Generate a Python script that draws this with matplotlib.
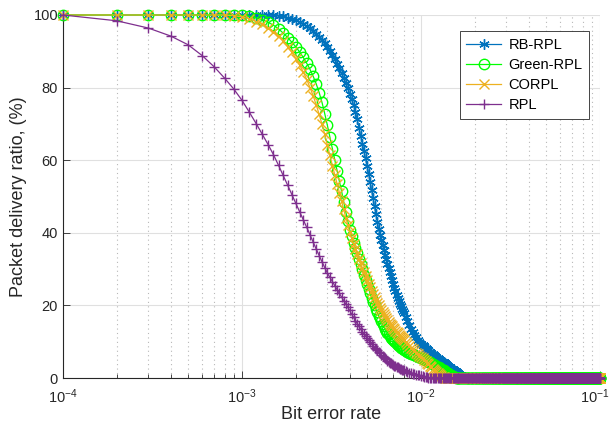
import numpy as np
import matplotlib
matplotlib.use('Agg')
import matplotlib.pyplot as plt
from matplotlib.ticker import LogLocator, NullFormatter

plt.rcParams['font.family'] = ['Liberation Sans', 'DejaVu Sans']
plt.rcParams['mathtext.default'] = 'regular'

# bit error rate grid: 1e-4 steps up to 8e-3, then 2e-4 steps up to 1e-1
ber = np.concatenate([np.arange(1, 81) * 1e-4, np.arange(41, 501) * 2e-4])

# packet delivery ratio (%), one row per 1e-3 of BER
rb_rpl = ([100] * 14 +
          [99.9, 99.8, 99.6, 99.3, 99.0, 98.6,
           98.1, 97.6, 97.0, 96.3, 95.6, 94.8, 94.0, 93.1, 92.2, 91.2,
           90.1, 89.0, 87.8, 86.6, 85.3, 84.0, 82.7, 81.3, 79.8, 78.3,
           76.8, 75.2, 73.3, 71.3, 69.0, 66.8, 64.6, 62.5, 60.5, 58.5,
           56.3, 54.0, 51.7, 49.5, 47.3, 45.2, 43.0, 41.0, 39.4, 38.0,
           36.6, 35.3, 34.0, 32.8, 31.5, 30.3, 29.1, 28.0, 26.9, 25.8,
           24.8, 23.9, 23.0, 22.1, 21.3, 20.5, 19.7, 19.0, 18.4, 17.8] +
          # 2e-4 steps from 8.2e-3
          [16.7, 15.6, 14.5, 13.5, 12.6, 11.9, 11.2, 10.6, 10.0, 9.5,
           9.1, 8.7, 8.3, 8.0, 7.6, 7.3, 7.0, 6.7, 6.4, 6.1,
           5.8, 5.6, 5.3, 5.0, 4.8, 4.5, 4.3, 4.0, 3.8, 3.5,
           3.3, 3.1, 2.9, 2.6, 2.4, 2.2, 2.0, 1.8, 1.6, 1.4,
           1.2, 1.0, 0.9, 0.7, 0.5, 0.4, 0.3, 0.2, 0.1])
green_rpl = ([100] * 9 +
             [99.9, 99.6, 99.2, 98.7, 98.0, 97.2, 96.2, 95.0, 93.8, 92.5, 91.2,
              89.8, 88.3, 86.7, 85.0, 83.1, 81.0, 78.6, 75.9, 72.8, 69.6,
              66.3, 63.0, 60.0, 57.0, 54.2, 51.5, 48.6, 45.8, 43.2, 40.8,
              39.0, 37.3, 35.8, 34.3, 32.8, 31.3, 29.9, 28.5, 27.1, 25.8,
              24.5, 23.3, 22.1, 21.0, 20.0, 19.0, 18.1, 17.2, 16.4, 15.6,
              14.9, 14.2, 13.6, 13.0, 12.5, 12.0, 11.5, 11.1, 10.7, 10.4,
              10.1, 9.8, 9.5, 9.2, 8.9, 8.7, 8.4, 8.2, 8.0, 7.8] +
             [7.5, 7.2, 6.9, 6.7, 6.5, 6.3, 6.1, 5.9, 5.7, 5.5,
              5.3, 5.1, 4.9, 4.7, 4.5, 4.3, 4.1, 3.9, 3.7, 3.5,
              3.3, 3.1, 2.9, 2.7, 2.5, 2.3, 2.1, 1.9, 1.7, 1.5,
              1.3, 1.1, 0.9, 0.7, 0.5, 0.3, 0.2, 0.1])
corpl = ([100] * 8 +
         [99.8, 99.5,
          98.9, 98.2, 97.4, 96.5, 95.4, 94.2, 92.8, 91.3, 89.7, 88.0,
          86.2, 84.3, 82.2, 80.0, 77.7, 75.2, 72.6, 69.9, 67.1, 64.2,
          61.3, 58.5, 56.0, 53.5, 51.1, 48.8, 46.5, 44.2, 42.1, 40.2,
          38.6, 37.0, 35.6, 34.2, 32.9, 31.6, 30.4, 29.2, 28.1, 27.0,
          26.0, 25.0, 24.1, 23.2, 22.4, 21.6, 20.8, 20.1, 19.4, 18.8,
          18.2, 17.6, 17.0, 16.5, 16.0, 15.5, 15.0, 14.6, 14.2, 13.8,
          13.4, 13.0, 12.6, 12.3, 11.9, 11.6, 11.3, 11.0, 10.7, 10.4] +
         [9.8, 9.3, 8.8, 8.3, 7.9, 7.4, 7.0, 6.6, 6.2, 5.8,
          5.4, 5.0, 4.6, 4.2, 3.8, 3.4, 3.0, 2.6, 2.2, 1.9,
          1.6, 1.3, 1.0, 0.7, 0.5, 0.3, 0.2, 0.1])
rpl = ([100, 98.4, 96.4, 94.2, 91.8, 88.8, 85.7, 82.6, 79.6, 76.5,
        73.2, 70.1, 67.1, 64.3, 61.5, 58.6, 55.8, 53.1, 50.5, 48.1,
        45.8, 43.6, 41.5, 39.4, 37.4, 35.5, 33.7, 32.0, 30.4, 28.9,
        27.7, 26.5, 25.4, 24.3, 23.3, 22.3, 21.3, 20.4, 19.5, 18.6,
        17.6, 16.7, 15.8, 15.0, 14.2, 13.5, 12.8, 12.2, 11.6, 11.0,
        10.4, 9.9, 9.4, 8.9, 8.4, 8.0, 7.6, 7.2, 6.8, 6.4,
        6.0, 5.7, 5.4, 5.1, 4.8, 4.5, 4.2, 4.0, 3.8, 3.6,
        3.4, 3.2, 3.0, 2.9, 2.7, 2.6, 2.4, 2.3, 2.2, 2.1] +
       [1.9, 1.7, 1.5, 1.4, 1.2, 1.1, 0.9, 0.8, 0.7, 0.6,
        0.5, 0.4, 0.3, 0.2, 0.1, 0.1])

# the rest of the range sits at zero
rb_rpl += [0] * (len(ber) - len(rb_rpl))
green_rpl += [0] * (len(ber) - len(green_rpl))
corpl += [0] * (len(ber) - len(corpl))
rpl += [0] * (len(ber) - len(rpl))

labels = ['RB-RPL', 'Green-RPL', 'CORPL', 'RPL']
colors = ['#0072BD', '#00FF00', '#EDB120', '#7E2F8E']
markers = [(6, 2, 0), 'o', 'x', '+']
xticks = [1e-4, 1e-3, 1e-2, 1e-1]
xticklabels = ['$10^{-4}$', '$10^{-3}$', '$10^{-2}$', '$10^{-1}$']

fig = plt.figure(figsize=(6.09, 4.36), dpi=100)
ax = fig.add_axes([0.1034, 0.133, 0.8818, 0.8326])

for y, lab, c, m in zip([rb_rpl, green_rpl, corpl, rpl], labels, colors, markers):
    ax.plot(ber, y, color=c, marker=m, markersize=7.5, lw=0.9, mew=1.0,
            markerfacecolor='none', label=lab, clip_on=False, zorder=3)

ax.set_xscale('log')
ax.set_xlim(1e-4, 1e-1)
ax.set_ylim(0, 100)
ax.set_yticks([0, 20, 40, 60, 80, 100])
# last label would run off the figure edge, so it is drawn separately a bit to the left
ax.set_xticks(xticks, labels=xticklabels[:-1] + [''])
ax.annotate(xticklabels[-1], xy=(xticks[-1], 0), xycoords=('data', 'axes fraction'),
            xytext=(-4, -7), textcoords='offset points', ha='center', va='top',
            fontsize=10.5, color='#262626')
ax.xaxis.set_minor_locator(LogLocator(base=10, subs=np.arange(2, 10)))
ax.xaxis.set_minor_formatter(NullFormatter())

ax.grid(True, which='major', color='#e0e0e0', lw=0.8, ls='-')
ax.grid(True, which='minor', axis='x', color='#b8b8b8', lw=0.8, ls=(0, (1, 3)))
ax.set_axisbelow(True)

for s in ['top', 'right']:
    ax.spines[s].set_visible(False)
for s in ['left', 'bottom']:
    ax.spines[s].set_color('#262626')
    ax.spines[s].set_linewidth(0.8)
ax.tick_params(which='both', direction='in', colors='#262626', labelsize=10.5)
ax.tick_params(which='major', length=5, width=0.6)
ax.tick_params(which='minor', length=3, width=0.6)
ax.tick_params(axis='x', pad=7)

ax.set_xlabel('Bit error rate', fontsize=13, color='#262626', labelpad=0)
ax.set_ylabel('Packet delivery ratio, (%)', fontsize=13, color='#262626', labelpad=5)

leg = ax.legend(loc='upper right', bbox_to_anchor=(0.98, 0.955), borderaxespad=0,
                fancybox=False, framealpha=1, edgecolor='#262626', fontsize=10.5,
                handlelength=2.4, borderpad=0.45, labelspacing=0.42, handletextpad=0.5)
leg.get_frame().set_linewidth(0.6)

fig.savefig('out.png', dpi=100)
